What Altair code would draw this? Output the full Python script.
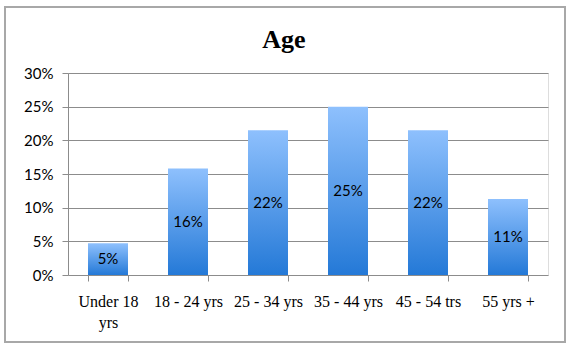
import altair as alt
import pandas as pd

categories = ["Under 18 yrs", "18 - 24 yrs", "25 - 34 yrs", "35 - 44 yrs", "45 - 54 trs", "55 yrs +"]
values = [0.047, 0.158, 0.215, 0.250, 0.215, 0.113]
labels = ["5%", "16%", "22%", "25%", "22%", "11%"]
y_ticks = [0, 0.05, 0.1, 0.15, 0.2, 0.25, 0.3]
title_text = "Age"

df = pd.DataFrame({"cat": categories, "val": values, "lab": labels})

x_axis = alt.Axis(
    labelAngle=0,
    labelFont="Liberation Serif",
    labelFontSize=16,
    labelColor="black",
    labelPadding=12,
    labelLineHeight=21,
    labelExpr="datum.value == 'Under 18 yrs' ? ['Under 18', 'yrs'] : datum.value",
    tickBand="extent",
    tickSize=6,
    tickColor="#8c8c8c",
    domain=False,
    grid=False,
)
y_axis = alt.Axis(
    format=".0%",
    values=y_ticks,
    labelOverlap=False,
    labelFont="Lato",
    labelFontSize=15,
    labelColor="black",
    labelPadding=9,
    tickSize=6,
    tickColor="#8c8c8c",
    domainColor="#8c8c8c",
    gridColor="#8c8c8c",
    gridOpacity=1,
)

x_scale = alt.Scale(paddingInner=0.5, paddingOuter=0.25)
y_scale = alt.Scale(domain=[0, 0.3], nice=False)

bars = alt.Chart(df).mark_bar(
    color=alt.Gradient(
        gradient="linear",
        x1=0, x2=0, y1=0, y2=1,
        stops=[alt.GradientStop(color="#8EC0FD", offset=0),
               alt.GradientStop(color="#2479D7", offset=1)],
    )
).encode(
    x=alt.X("cat:N", sort=categories, title=None, scale=x_scale, axis=x_axis),
    y=alt.Y("val:Q", scale=y_scale, title=None, axis=y_axis),
)

text = alt.Chart(df).transform_calculate(mid="datum.val / 2").mark_text(
    font="Lato", fontSize=15, color="black", baseline="middle"
).encode(
    x=alt.X("cat:N", sort=categories, title=None, scale=x_scale, axis=x_axis),
    y=alt.Y("mid:Q", scale=y_scale, title=None, axis=y_axis),
    text="lab:N",
)

deco = alt.Data(values=[{"t": title_text}])

border = alt.Chart(deco).mark_rect(
    fill=None, stroke="#a8a8a8", strokeWidth=2, clip=False
).encode(
    x=alt.value(-63), x2=alt.value(497),
    y=alt.value(-66), y2=alt.value(269),
)

title = alt.Chart(deco).mark_text(
    font="Liberation Serif", fontSize=26, fontWeight="bold", color="black",
    baseline="alphabetic", align="center", clip=False,
).encode(
    x=alt.value(216), y=alt.value(-25), text="t:N",
)

chart = alt.layer(bars, text, border, title).properties(
    width=480,
    height=202,
    autosize=alt.AutoSizeParams(type="none"),
    padding={"left": 68, "top": 73, "right": 24, "bottom": 79},
).configure_view(stroke=None).configure(background="white")

chart.save("out.html", embed_options={"renderer": "svg", "actions": False})
